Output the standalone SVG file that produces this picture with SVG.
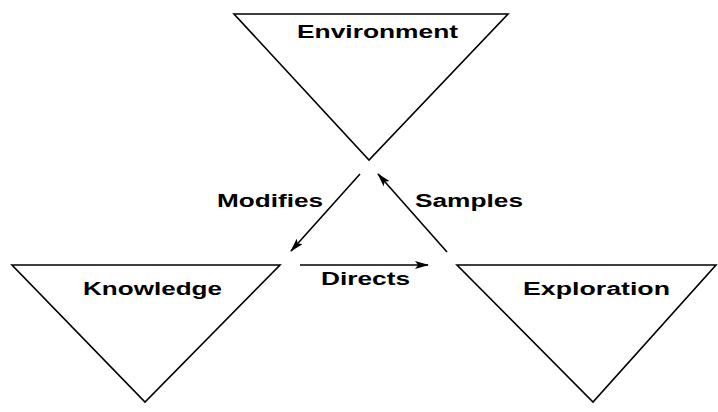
<svg xmlns="http://www.w3.org/2000/svg" width="718" height="412" viewBox="0 0 718 412">
<style>
.tri{fill:#fff;stroke:#000;stroke-width:1.6;stroke-linejoin:miter}
.lbl{font-family:"Liberation Sans",Arial,sans-serif;font-weight:bold;font-size:18px;fill:#000}
.con{stroke:#000;stroke-width:1.6;fill:none}
</style>
<defs>
<marker id="ah" markerWidth="14" markerHeight="8" refX="13" refY="4" orient="auto" markerUnits="userSpaceOnUse">
<path d="M0,0 L14,4 L0,8 L3,4 Z" fill="#000"/>
</marker>
</defs>
<rect width="718" height="412" fill="#fff"/>
<g id="environment">
<polygon class="tri" points="234,14 508,14 369,160"/>
<text class="lbl" x="297" y="38" textLength="161" lengthAdjust="spacingAndGlyphs">Environment</text>
</g>
<g id="knowledge">
<polygon class="tri" points="12,265 280,265 145,402"/>
<text class="lbl" x="83" y="295" textLength="139" lengthAdjust="spacingAndGlyphs">Knowledge</text>
</g>
<g id="exploration">
<polygon class="tri" points="457,265 716,265 593,402"/>
<text class="lbl" x="523" y="295" textLength="147" lengthAdjust="spacingAndGlyphs">Exploration</text>
</g>
<g id="connectors">
<line class="con" x1="360" y1="174" x2="291" y2="251" marker-end="url(#ah)"/>
<line class="con" x1="447" y1="252" x2="378" y2="174" marker-end="url(#ah)"/>
<line class="con" x1="300" y1="265" x2="428" y2="265" marker-end="url(#ah)"/>
<text class="lbl" x="217" y="207" textLength="106" lengthAdjust="spacingAndGlyphs">Modifies</text>
<text class="lbl" x="415" y="207" textLength="108" lengthAdjust="spacingAndGlyphs">Samples</text>
<text class="lbl" x="321" y="285" textLength="89" lengthAdjust="spacingAndGlyphs">Directs</text>
</g>
</svg>
